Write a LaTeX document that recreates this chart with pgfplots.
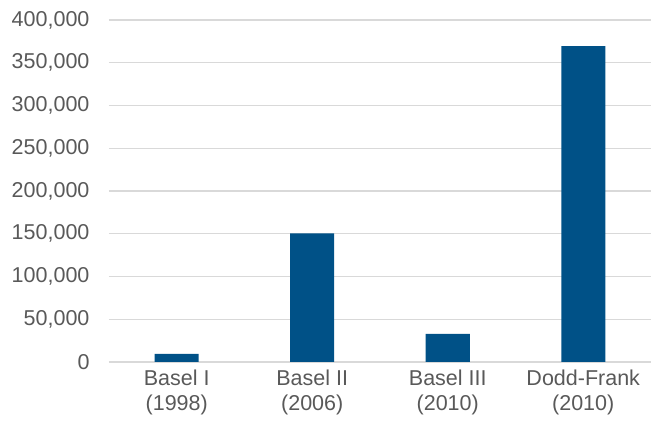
\documentclass[border=0pt]{standalone}
\usepackage{fontspec}
\setmainfont{Liberation Sans}
\usepackage{pgfplots}
\pgfplotsset{compat=1.18}
\definecolor{barblue}{RGB}{0,81,135}
\definecolor{txtgray}{RGB}{89,89,89}
\definecolor{gridgray}{RGB}{217,217,217}
\begin{document}
\begin{tikzpicture}
\path[use as bounding box] (-109pt,-66pt) rectangle (542pt,362pt);
\begin{axis}[
  at={(0pt,0pt)}, anchor=south west,
  scale only axis,
  width=542pt, height=342pt,
  ymin=0, ymax=400000,
  xmin=-0.5, xmax=3.5,
  ytick={0,50000,100000,150000,200000,250000,300000,350000,400000},
  yticklabels={0,{50,000},{100,000},{150,000},{200,000},{250,000},{300,000},{350,000},{400,000}},
  xtick={0,1,2,3},
  xticklabels={{Basel I\\(1998)},{Basel II\\(2006)},{Basel III\\(2010)},{Dodd-Frank\\(2010)}},
  xticklabel style={align=center, font=\fontsize{21.5}{25}\selectfont, text=txtgray},
  yticklabel style={font=\fontsize{21.5}{25}\selectfont, text=txtgray},
  scaled y ticks=false,
  ymajorgrids,
  grid style={gridgray, line width=1.3pt},
  axis lines*=left,
  y axis line style={draw=none},
  x axis line style={gridgray, line width=1.3pt},
  major tick length=0pt,
  ytick style={draw=none}, xtick style={draw=none},
  y tick label style={xshift=-16pt},
  x tick label style={yshift=-4pt},
  clip=false,
]
\addplot[ybar, bar width=44pt, fill=barblue, draw=none] coordinates {(0,9500) (1,150500) (2,32800) (3,369500)};
\end{axis}
\end{tikzpicture}
\end{document}
